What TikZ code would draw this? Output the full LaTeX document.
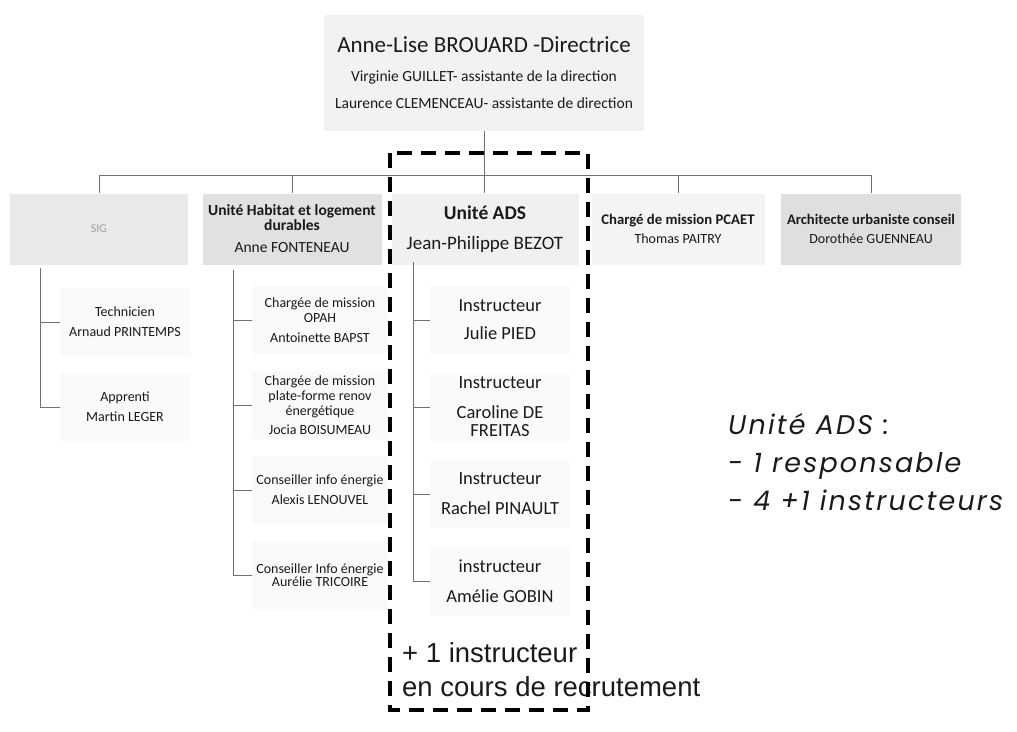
\documentclass[tikz,border=0pt]{standalone}
\usepackage{fontspec}
\setmainfont{Carlito}
\newfontfamily\recrfont{Liberation Sans}
\newfontfamily\notefont[LetterSpace=8]{Poppins}
\usetikzlibrary{positioning}
\definecolor{topgray}{HTML}{F2F2F2}
\definecolor{siggray}{HTML}{E9E9E9}
\definecolor{sigtext}{HTML}{A0A0A0}
\definecolor{habgray}{HTML}{E1E1E1}
\definecolor{adsgray}{HTML}{F0F0F0}
\definecolor{pcaetgray}{HTML}{F4F4F4}
\definecolor{archgray}{HTML}{DFDFDF}
\definecolor{subgray}{HTML}{FAFAFA}
\definecolor{linegray}{HTML}{707070}
\definecolor{ink}{HTML}{1A1A1A}
\begin{document}
\begin{tikzpicture}[x=1pt, y=-1pt, node distance=85pt, text=ink,
    unit/.style={minimum height=71pt, align=center, inner sep=1pt, node distance=193pt},
    sub/.style={fill=subgray, minimum width=136pt, minimum height=68pt, align=center, inner sep=1pt},
    adssub/.style={sub, minimum width=140pt, node distance=87pt, font=\fontsize{18.5}{28}\selectfont},
    link/.style={draw=linegray, line width=0.8pt},
    adsframe/.style={draw=black, line width=3.2pt, dash pattern=on 15pt off 9pt}]
\useasboundingbox (0,0) rectangle (1017,731);

\node[fill=topgray, minimum width=320pt, minimum height=116pt, align=center, font=\fontsize{15.5}{27}\selectfont] (dir) at (484,73)
    {{\fontsize{23}{27}\selectfont Anne-Lise BROUARD -Directrice}\\[2pt]
     Virginie GUILLET- assistante de la direction\\
     Laurence CLEMENCEAU- assistante de direction};

\node[unit, fill=siggray, minimum width=178pt, text=sigtext, font=\fontsize{12}{13}\selectfont] (sig) at (99,229) {SIG};
\node[unit, fill=habgray, minimum width=179pt, font=\fontsize{15.5}{15}\selectfont] (hab) [right of=sig]
    {\textbf{Unité Habitat et logement}\\\textbf{durables}\\[7pt]Anne FONTENEAU};
\node[unit, fill=adsgray, minimum width=187pt, font=\fontsize{19}{30}\selectfont] (ads) [right of=hab]
    {{\bfseries\fontsize{19.5}{30}\selectfont Unité ADS}\\Jean-Philippe BEZOT};
\node[unit, fill=pcaetgray, minimum width=173pt, font=\fontsize{14}{19}\selectfont] (pcaet) [right of=ads]
    {{\bfseries\fontsize{14.7}{19}\selectfont Chargé de mission PCAET}\\Thomas PAITRY};
\node[unit, fill=archgray, minimum width=180pt, font=\fontsize{14}{19}\selectfont] (arch) [right of=pcaet]
    {{\bfseries\fontsize{14.6}{19}\selectfont Architecte urbaniste conseil}\\Dorothée GUENNEAU};

\node[sub, minimum width=130pt, font=\fontsize{14}{20}\selectfont] (tech) at (125,322) {Technicien\\Arnaud PRINTEMPS};
\node[sub, minimum width=130pt, font=\fontsize{14}{20}\selectfont] (appr) [below of=tech] {Apprenti\\Martin LEGER};

\node[sub, font=\fontsize{14}{15}\selectfont] (opah) at (320,320) {Chargée de mission\\OPAH\\[5pt]Antoinette BAPST};
\node[sub, font=\fontsize{14}{15}\selectfont] (renov) [below of=opah] {Chargée de mission\\plate-forme renov\\énergétique\\[4pt]Jocia BOISUMEAU};
\node[sub, font=\fontsize{14}{15}\selectfont] (lenouvel) [below of=renov] {Conseiller info énergie\\[5pt]Alexis LENOUVEL};
\node[sub, font=\fontsize{14}{13}\selectfont] (tricoire) [below of=lenouvel] {Conseiller Info énergie\\Aurélie TRICOIRE};

\node[adssub] (pied) at (500,320) {Instructeur\\Julie PIED};
\node[adssub] (freitas) [below of=pied] {Instructeur\\[2pt]Caroline DE\\[-10pt]FREITAS};
\node[adssub] (pinault) [below of=freitas] {Instructeur\\[2pt]Rachel PINAULT};
\node[adssub] (gobin) [below of=pinault] {instructeur\\[2pt]Amélie GOBIN};

\node[anchor=west, align=left, inner sep=0pt, font=\recrfont\fontsize{27.5}{34}\selectfont] (recr) at (402,670)
    {+ 1 instructeur\\en cours de recrutement};

\node[anchor=north west, align=left, inner sep=0pt, font=\notefont\itshape\fontsize{27}{38}\selectfont] (note) at (728,413)
    {Unité ADS :\\- 1 responsable\\- 4 +1 instructeurs};

\coordinate (bus) at (484,175);
\coordinate (sigT) at (40,268);
\coordinate (habT) at (233,270);
\coordinate (adsT) at (413,262);

\draw[link] (dir.south) -- (dir.south |- ads.north);
\draw[link] (bus) -| (sig.north);
\draw[link] (bus) -| (hab.north);
\draw[link] (bus) -| (pcaet.north);
\draw[link] (bus) -| (arch.north);

\draw[link] (sigT) |- (tech.west);
\draw[link] (sigT) |- (appr.west);
\draw[link] (habT) |- (opah.west);
\draw[link] (habT) |- (renov.west);
\draw[link] (habT) |- (lenouvel.west);
\draw[link] (habT) |- (tricoire.west);
\draw[link] (adsT) |- (pied.west);
\draw[link] (adsT) |- (freitas.west);
\draw[link] (adsT) |- (pinault.west);
\draw[link] (adsT) |- (gobin.west);

\draw[adsframe] (390,153) rectangle (588,710);
\end{tikzpicture}
\end{document}
